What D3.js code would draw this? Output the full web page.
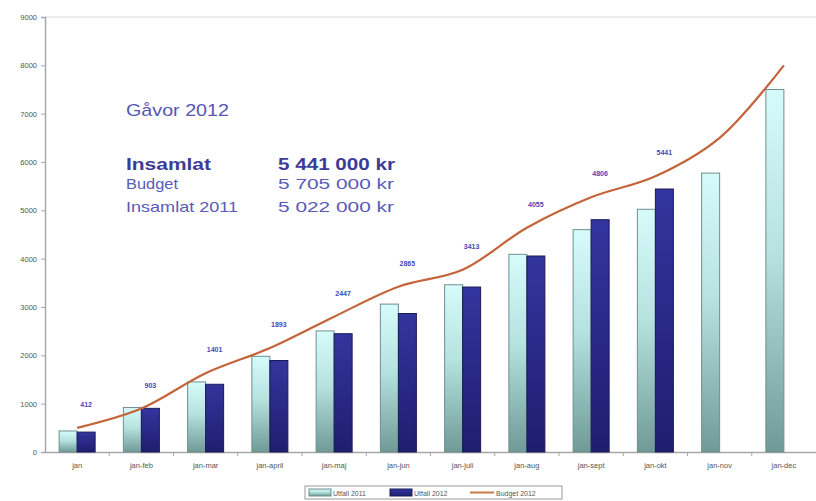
<!DOCTYPE html>
<html>
<head>
<meta charset="utf-8">
<script src="https://cdn.jsdelivr.net/npm/d3@7.9.0/dist/d3.min.js"></script>
<style>
  html, body { margin: 0; padding: 0; background: #fff; }
  svg { display: block; font-family: "Liberation Sans", Arial, sans-serif; }
</style>
</head>
<body>
<svg id="chart" width="816" height="501"></svg>
<script>
const months = ['jan', 'jan-feb', 'jan-mar', 'jan-april', 'jan-maj', 'jan-jun',
    'jan-juli', 'jan-aug', 'jan-sept', 'jan-okt', 'jan-nov', 'jan-dec'];
const utfall2011 = [435, 920, 1450, 1980, 2505, 3060, 3460, 4090, 4600, 5022, 5770, 7500];
const utfall2012 = [412, 903, 1401, 1893, 2447, 2865, 3413, 4055, 4806, 5441];
const budget2012 = [500, 900, 1630, 2150, 2800, 3420, 3770, 4640, 5270, 5705, 6500, 8000];
const yTicks = [0, 1000, 2000, 3000, 4000, 5000, 6000, 7000, 8000, 9000];

const summaryLabels = ['Insamlat', 'Budget', 'Insamlat 2011'];
const summaryValues = ['5 441 000 kr', '5 705 000 kr', '5 022 000 kr'];

const svg = d3.select('#chart');
const plotLeft = 45, plotRight = 816, plotTop = 17, plotBottom = 452;

const x = d3.scaleBand().domain(months).range([plotLeft, plotRight]);
const y = d3.scaleLinear().domain([0, 9000]).range([plotBottom, plotTop]);
const barW = 18;
const cx = (m) => x(m) + x.bandwidth() / 2;

// gradients
const defs = svg.append('defs');
const g1 = defs.append('linearGradient').attr('id', 'g2011')
    .attr('x1', 0).attr('y1', 0).attr('x2', 0).attr('y2', 1);
g1.append('stop').attr('offset', '0%').attr('stop-color', '#d6fbfb');
g1.append('stop').attr('offset', '45%').attr('stop-color', '#b6e2e0');
g1.append('stop').attr('offset', '100%').attr('stop-color', '#6f9a97');
const g2 = defs.append('linearGradient').attr('id', 'g2012')
    .attr('x1', 0).attr('y1', 0).attr('x2', 0).attr('y2', 1);
g2.append('stop').attr('offset', '0%').attr('stop-color', '#34349e');
g2.append('stop').attr('offset', '100%').attr('stop-color', '#1e1e70');

// plot frame top line
svg.append('line')
    .attr('x1', plotLeft).attr('x2', plotRight).attr('y1', plotTop).attr('y2', plotTop)
    .attr('stroke', '#d8d8d8').attr('stroke-width', 1);

// y axis
const yAxis = svg.append('g')
    .attr('transform', `translate(${plotLeft},0)`)
    .call(d3.axisLeft(y).tickValues(yTicks).tickFormat(d3.format('d')).tickSize(4).tickPadding(4));
yAxis.select('.domain').attr('stroke', '#a8a8a8').attr('stroke-width', 1.5);
yAxis.selectAll('.tick line').attr('stroke', '#a8a8a8');
yAxis.selectAll('.tick text').attr('font-size', 7.5).attr('fill', '#555')
    .attr('font-family', '"Liberation Sans", Arial, sans-serif');

// x axis
const xAxis = svg.append('g')
    .attr('transform', `translate(0,${plotBottom})`)
    .call(d3.axisBottom(x).tickSize(0).tickPadding(11));
xAxis.select('.domain').attr('stroke', '#a8a8a8').attr('stroke-width', 1.5);
xAxis.selectAll('.tick text').attr('font-size', 7.5).attr('fill', '#555')
    .attr('font-family', '"Liberation Sans", Arial, sans-serif');
svg.append('g').selectAll('line')
    .data(months.slice(1))
    .join('line')
    .attr('x1', d => x(d)).attr('x2', d => x(d))
    .attr('y1', plotBottom).attr('y2', plotBottom + 4)
    .attr('stroke', '#a8a8a8');

// bars 2011
svg.append('g').selectAll('rect')
    .data(utfall2011)
    .join('rect')
    .attr('x', (d, i) => cx(months[i]) - barW)
    .attr('y', d => y(d))
    .attr('width', barW)
    .attr('height', d => plotBottom - y(d))
    .attr('fill', 'url(#g2011)')
    .attr('stroke', '#6f8f8d').attr('stroke-width', 1);

// bars 2012
svg.append('g').selectAll('rect')
    .data(utfall2012)
    .join('rect')
    .attr('x', (d, i) => cx(months[i]))
    .attr('y', d => y(d))
    .attr('width', barW)
    .attr('height', d => plotBottom - y(d))
    .attr('fill', 'url(#g2012)')
    .attr('stroke', '#1a1a5a').attr('stroke-width', 1);

// budget line
const line = d3.line()
    .x((d, i) => cx(months[i]))
    .y(d => y(d))
    .curve(d3.curveCatmullRom.alpha(0.5));
svg.append('path')
    .datum(budget2012)
    .attr('d', line)
    .attr('fill', 'none')
    .attr('stroke', '#c4643a').attr('stroke-width', 2.2);

// value labels for 2012
svg.append('g').selectAll('text')
    .data(utfall2012)
    .join('text')
    .attr('x', (d, i) => cx(months[i]) + barW / 2)
    .attr('y', (d, i) => y(budget2012[i]) - 21)
    .attr('text-anchor', 'middle')
    .attr('font-size', 7)
    .attr('font-weight', 'bold')
    .attr('fill', '#4848b8')
    .text(d => d);

// summary text
svg.append('text')
    .attr('x', 126).attr('y', 116)
    .attr('font-size', 17)
    .attr('fill', '#5656b4')
    .attr('textLength', 103).attr('lengthAdjust', 'spacingAndGlyphs')
    .text('Gåvor 2012');

const rowY = [170, 189, 212];
const labelW = [85, 52, 112];
summaryLabels.forEach((lab, i) => {
    const bold = i === 0;
    const fs = bold ? 17 : 14.5;
    const col = bold ? '#3c3c96' : '#5a5ab8';
    svg.append('text')
        .attr('x', 126).attr('y', rowY[i])
        .attr('font-size', fs)
        .attr('font-weight', bold ? 'bold' : 'normal')
        .attr('fill', col)
        .attr('textLength', labelW[i]).attr('lengthAdjust', 'spacingAndGlyphs')
        .text(lab);
    svg.append('text')
        .attr('x', 278).attr('y', rowY[i])
        .attr('font-size', fs)
        .attr('font-weight', bold ? 'bold' : 'normal')
        .attr('fill', col)
        .attr('textLength', bold ? 117 : 116).attr('lengthAdjust', 'spacingAndGlyphs')
        .text(summaryValues[i]);
});

// legend
const lg = svg.append('g').attr('font-size', 7).attr('fill', '#555');
lg.append('rect')
    .attr('x', 305).attr('y', 486).attr('width', 257).attr('height', 13)
    .attr('fill', '#fff').attr('stroke', '#999');
lg.append('rect').attr('x', 309).attr('y', 489).attr('width', 22).attr('height', 7)
    .attr('fill', 'url(#g2011)').attr('stroke', '#6f8f8d');
lg.append('text').attr('x', 333).attr('y', 495.5).text('Utfall 2011');
lg.append('rect').attr('x', 390).attr('y', 489).attr('width', 22).attr('height', 7)
    .attr('fill', 'url(#g2012)').attr('stroke', '#1a1a5a');
lg.append('text').attr('x', 414).attr('y', 495.5).text('Utfall 2012');
lg.append('line').attr('x1', 470).attr('x2', 494).attr('y1', 492.5).attr('y2', 492.5)
    .attr('stroke', '#d07848').attr('stroke-width', 2);
lg.append('text').attr('x', 496).attr('y', 495.5).text('Budget 2012');
</script>
</body>
</html>
